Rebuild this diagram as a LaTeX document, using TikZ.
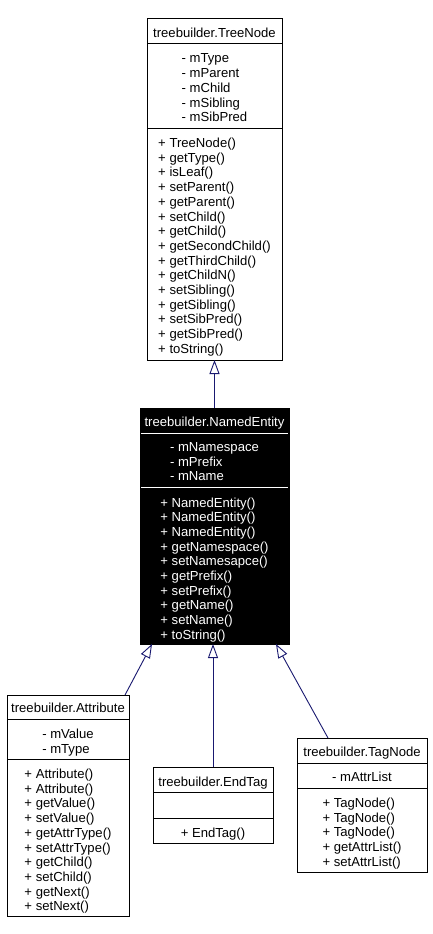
\documentclass[tikz,border=0pt]{standalone}
\usepackage{fontspec}
\setmainfont{Liberation Sans}
\usetikzlibrary{arrows.meta}
\definecolor{connclr}{HTML}{191970}
\newcommand{\umllines}[1]{\begin{tabular}[t]{@{}l@{}}#1\end{tabular}}
\begin{document}
\begin{tikzpicture}[x=1pt,y=-1pt,
  every node/.style={font=\fontsize{13.1}{14.7}\selectfont, inner sep=0pt, outer sep=0pt},
  umlbox/.style={draw=black, line width=1pt, anchor=north west, fill=white},
  txt/.style={anchor=base},
  sepline/.style={line width=1pt},
  inherit/.style={draw=connclr, line width=0.9pt, -{Triangle[open, length=14pt, width=10pt]}}]
\useasboundingbox (0,0) rectangle (432,934);
\fill[white] (0,0) rectangle (432,934);

% TreeNode
\node[umlbox, minimum width=135pt, minimum height=341pt] (treenode) at (147,19) {};
\draw[sepline] (treenode.west |- 0,44) -- (treenode.east |- 0,44);
\draw[sepline] (treenode.west |- 0,128) -- (treenode.east |- 0,128);
\node[txt] (tn-title) at (214.5,38) {treebuilder.TreeNode};
\node[txt] (tn-attr) at (214.5,63) {\umllines{- mType\\- mParent\\- mChild\\- mSibling\\- mSibPred}};
\node[txt] (tn-meth) at (214.5,147.5) {\umllines{+ TreeNode()\\+ getType()\\+ isLeaf()\\+ setParent()\\+ getParent()\\+ setChild()\\+ getChild()\\+ getSecondChild()\\+ getThirdChild()\\+ getChildN()\\+ setSibling()\\+ getSibling()\\+ setSibPred()\\+ getSibPred()\\+ toString()}};

% NamedEntity
\node[umlbox, fill=black, minimum width=149pt, minimum height=236pt] (ne) at (140,408) {};
\draw[sepline, white] ([xshift=1pt]ne.west |- 0,433) -- ([xshift=-1pt]ne.east |- 0,433);
\draw[sepline, white] ([xshift=1pt]ne.west |- 0,487.5) -- ([xshift=-1pt]ne.east |- 0,487.5);
\node[txt, text=white] (ne-title) at (214.5,426.5) {treebuilder.NamedEntity};
\node[txt, text=white] (ne-attr) at (214.5,451.5) {\umllines{- mNamespace\\- mPrefix\\- mName}};
\node[txt, text=white] (ne-meth) at (214.5,507) {\umllines{+ NamedEntity()\\+ NamedEntity()\\+ NamedEntity()\\+ getNamespace()\\+ setNamesapce()\\+ getPrefix()\\+ setPrefix()\\+ getName()\\+ setName()\\+ toString()}};

% Attribute
\node[umlbox, minimum width=122pt, minimum height=221pt] (attribute) at (7,695) {};
\draw[sepline] (attribute.west |- 0,719.5) -- (attribute.east |- 0,719.5);
\draw[sepline] (attribute.west |- 0,759) -- (attribute.east |- 0,759);
\node[txt] (at-title) at (68,712.5) {treebuilder.Attribute};
\node[txt] (at-attr) at (68,738.5) {\umllines{- mValue\\- mType}};
\node[txt] (at-meth) at (68,778.5) {\umllines{+ Attribute()\\+ Attribute()\\+ getValue()\\+ setValue()\\+ getAttrType()\\+ setAttrType()\\+ getChild()\\+ setChild()\\+ getNext()\\+ setNext()}};

% EndTag
\node[umlbox, minimum width=120pt, minimum height=76pt] (endtag) at (153,767) {};
\draw[sepline] (endtag.west |- 0,792) -- (endtag.east |- 0,792);
\draw[sepline] (endtag.west |- 0,818) -- (endtag.east |- 0,818);
\node[txt] (et-title) at (213,786.5) {treebuilder.EndTag};
\node[txt] (et-meth) at (213,837.5) {\umllines{+ EndTag()}};

% TagNode
\node[umlbox, minimum width=130pt, minimum height=134pt] (tagnode) at (297,738) {};
\draw[sepline] (tagnode.west |- 0,763) -- (tagnode.east |- 0,763);
\draw[sepline] (tagnode.west |- 0,788) -- (tagnode.east |- 0,788);
\node[txt] (tg-title) at (362,756.5) {treebuilder.TagNode};
\node[txt] (tg-attr) at (362,781.5) {\umllines{- mAttrList}};
\node[txt] (tg-meth) at (362,807.5) {\umllines{+ TagNode()\\+ TagNode()\\+ TagNode()\\+ getAttrList()\\+ setAttrList()}};

% connector end points
\coordinate (at-start) at (125,695);
\coordinate (ne-left) at (152,644);
\coordinate (tg-start) at (328,738);
\coordinate (ne-right) at (276,644);

% connectors
\draw[inherit] (ne.north) -- (treenode.south);
\draw[inherit] (at-start) -- (ne-left);
\draw[inherit] (endtag.north) -- (endtag.north |- ne.south);
\draw[inherit] (tg-start) -- (ne-right);
\end{tikzpicture}
\end{document}
